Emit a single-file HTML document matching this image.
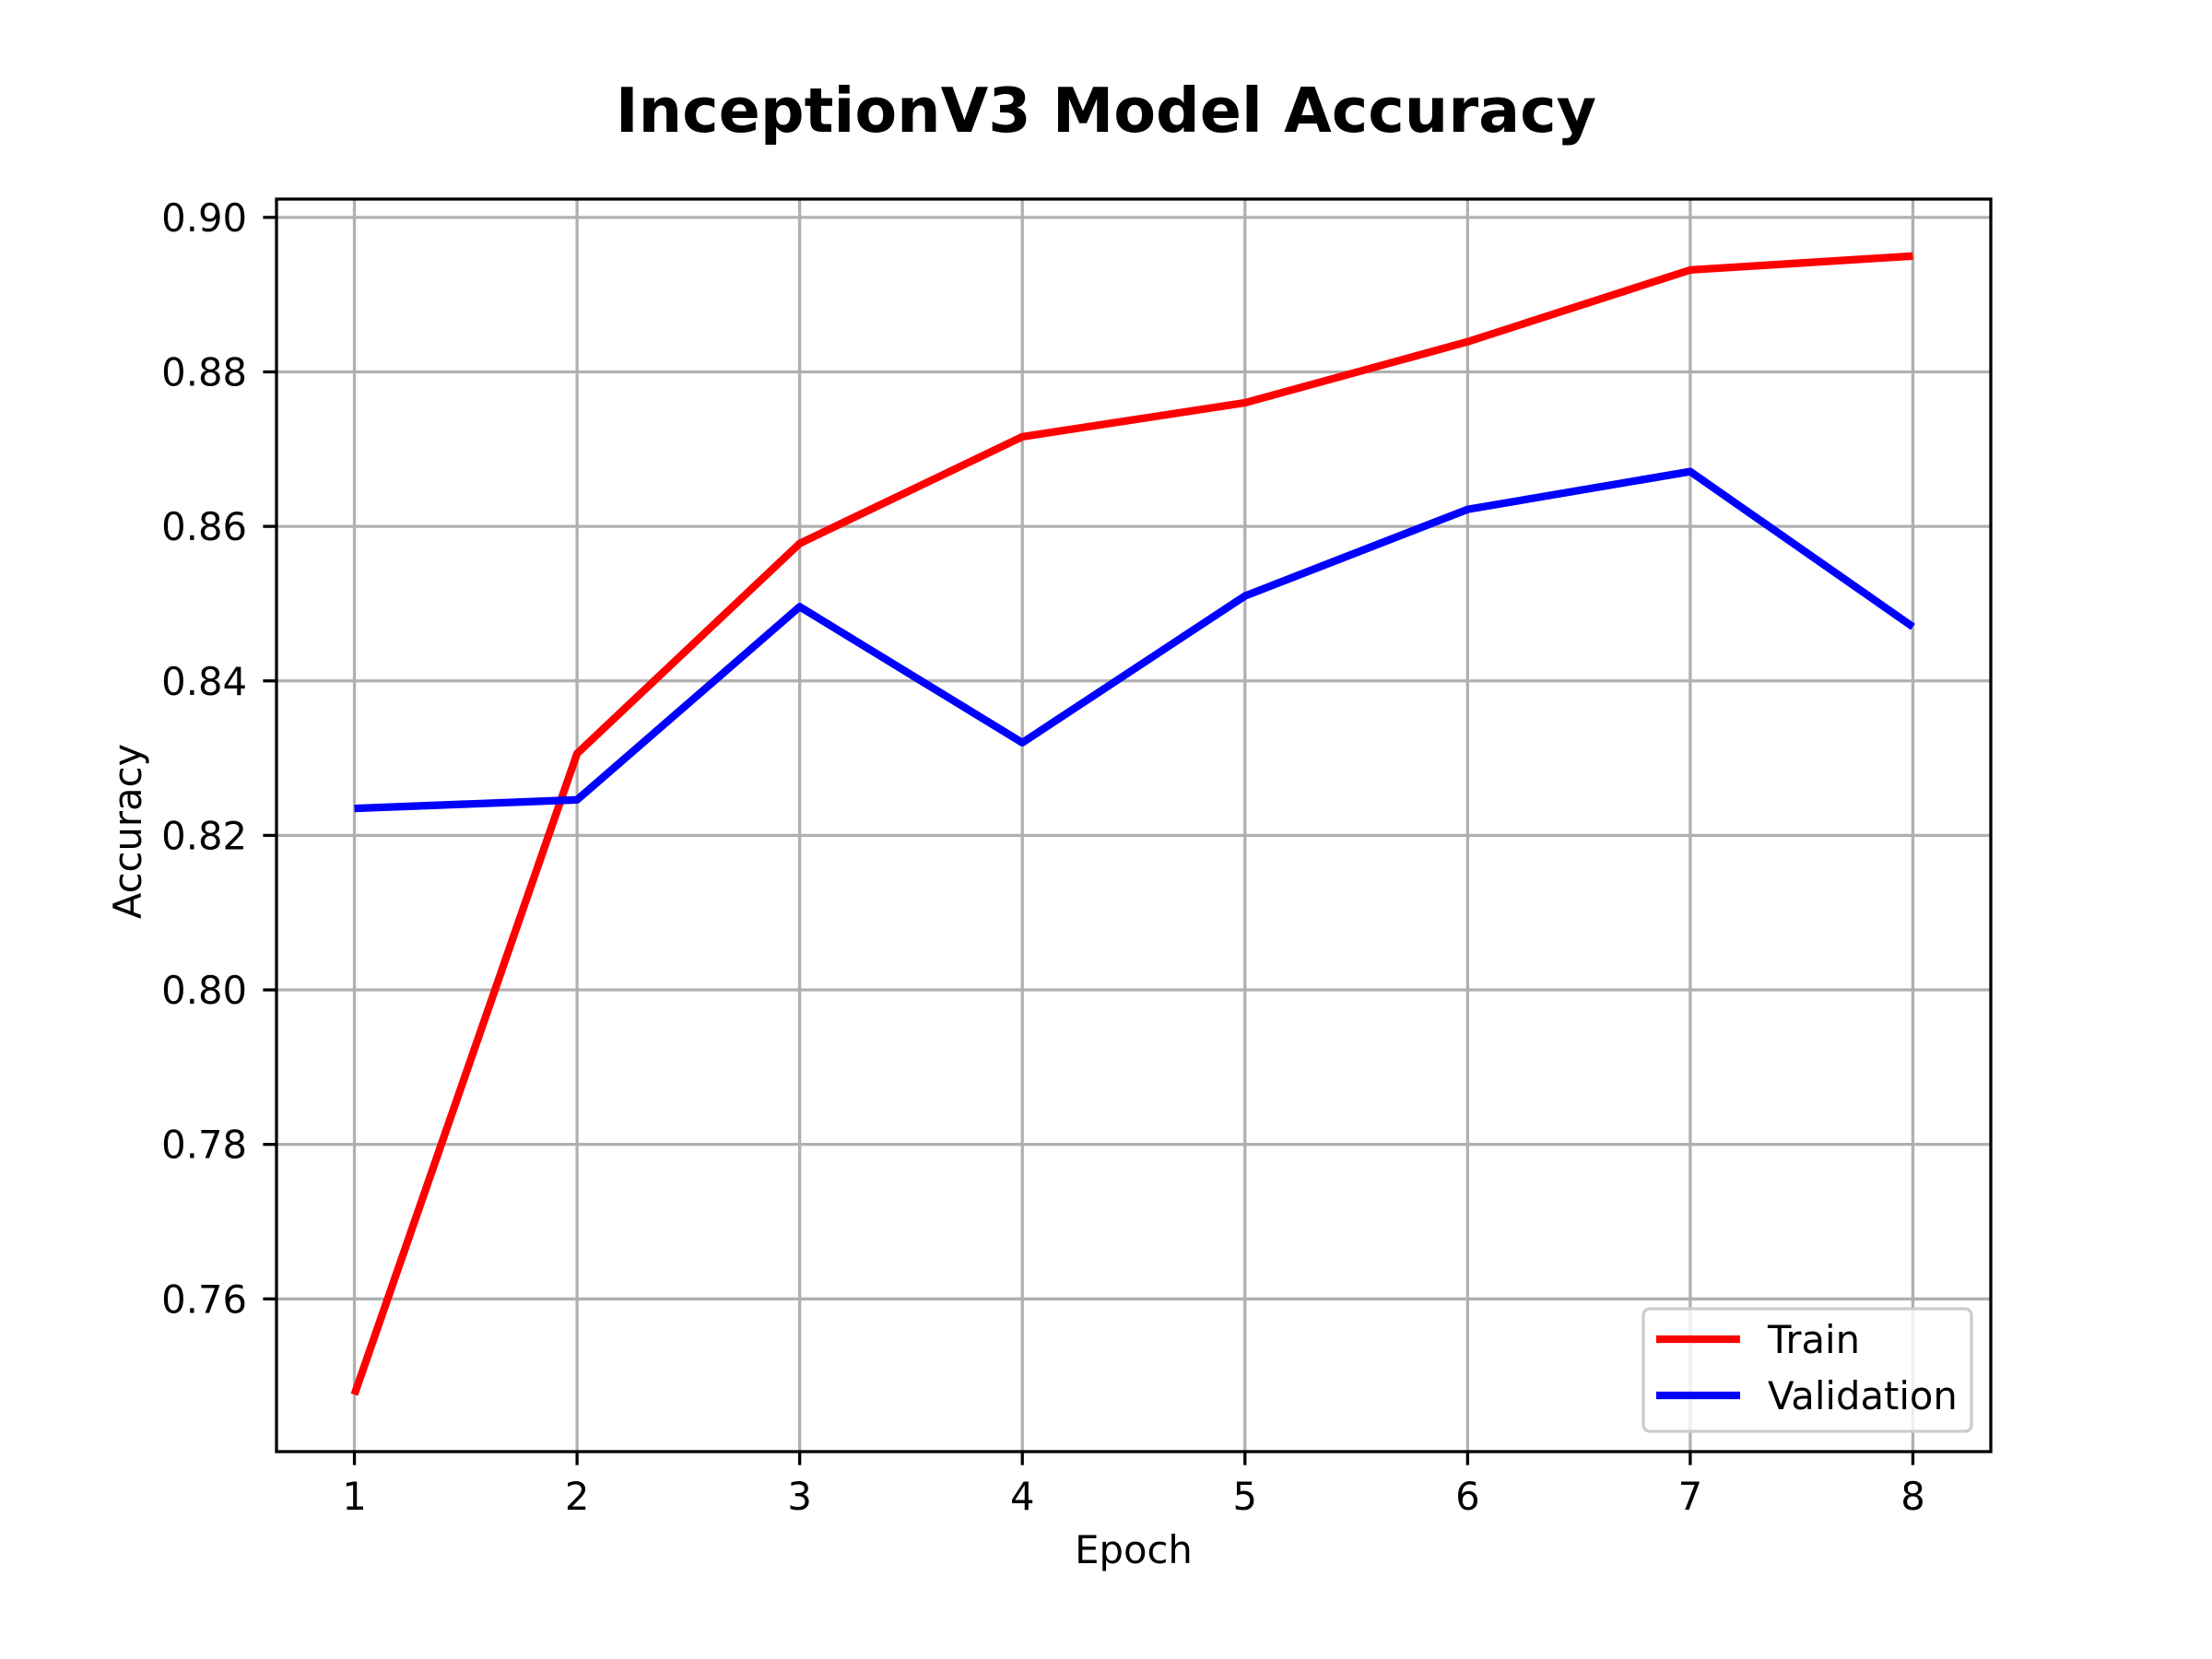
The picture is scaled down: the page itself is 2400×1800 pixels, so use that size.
<!DOCTYPE html>
<html><head><meta charset="utf-8"><style>
html,body{margin:0;padding:0;background:#fff;}
svg{display:block;font-family:"DejaVu Sans","Liberation Sans",sans-serif;}
</style></head><body>
<svg id="chart" width="2400" height="1800" viewBox="0 0 2400 1800" xmlns="http://www.w3.org/2000/svg">
<rect x="0" y="0" width="2400" height="1800" fill="#fff"/>
<text x="1200" y="143" text-anchor="middle" font-size="66.7" font-weight="bold">InceptionV3 Model Accuracy</text>
<g id="grid"></g>
<g id="series"></g>
<rect x="300" y="216" width="1860" height="1359" fill="none" stroke="#000" stroke-width="3.3"/>
<g id="ticks"></g>
<text x="1230" y="1696" text-anchor="middle" font-size="41.7">Epoch</text>
<text x="0" y="0" transform="translate(153,902) rotate(-90)" text-anchor="middle" font-size="41.7">Accuracy</text>
<g>
<rect x="1783" y="1420" width="356" height="133" rx="7" fill="#fff" fill-opacity="0.8" stroke="#cccccc" stroke-width="3.3"/>
<line x1="1797" y1="1453" x2="1888" y2="1453" stroke="#ff0000" stroke-width="8.3"/>
<text x="1918" y="1468" font-size="41.7">Train</text>
<line x1="1797" y1="1514" x2="1888" y2="1514" stroke="#0000ff" stroke-width="8.3"/>
<text x="1918" y="1529" font-size="41.7">Validation</text>
</g>
</svg>
<script>
const epochs = [1, 2, 3, 4, 5, 6, 7, 8];
const trainAcc = [0.7476, 0.8306, 0.8578, 0.8716, 0.8760, 0.8839, 0.8932, 0.8950];
const valAcc = [0.8235, 0.8246, 0.8496, 0.8320, 0.8510, 0.8622, 0.8671, 0.8470];
const xTicks = [1, 2, 3, 4, 5, 6, 7, 8];
const yTicks = [0.76, 0.78, 0.80, 0.82, 0.84, 0.86, 0.88, 0.90];
const yTickLabels = ["0.76", "0.78", "0.80", "0.82", "0.84", "0.86", "0.88", "0.90"];

const L = 300, R = 2160, T = 216, B = 1575;
const NS = "http://www.w3.org/2000/svg";
const xmin0 = Math.min(...epochs), xmax0 = Math.max(...epochs);
const xm = (xmax0 - xmin0) * 0.05;
const xlo = xmin0 - xm, xhi = xmax0 + xm;
const vals = trainAcc.concat(valAcc);
const ymin0 = Math.min(...vals), ymax0 = Math.max(...vals);
const ym = (ymax0 - ymin0) * 0.05;
const ylo = ymin0 - ym, yhi = ymax0 + ym;
function sx(v){ return L + (v - xlo) / (xhi - xlo) * (R - L); }
function sy(v){ return B - (v - ylo) / (yhi - ylo) * (B - T); }
function mk(tag, attrs, parent){
  const e = document.createElementNS(NS, tag);
  for (const k in attrs) e.setAttribute(k, attrs[k]);
  parent.appendChild(e);
  return e;
}
const grid = document.getElementById('grid');
const ticks = document.getElementById('ticks');
const series = document.getElementById('series');
xTicks.forEach((t) => {
  const x = sx(t);
  const g = mk('line', {x1:x, y1:T, x2:x, y2:B, stroke:'#b0b0b0', 'stroke-width':3.3}, grid);
  
  
  const tk = mk('line', {x1:x, y1:B, x2:x, y2:B+14.6, stroke:'#000', 'stroke-width':3.3}, ticks);
  
  
  const lb = mk('text', {x:x, y:1638, 'text-anchor':'middle', 'font-size':41.7}, ticks);
  lb.textContent = String(t);
  
  
});
yTicks.forEach((t, i) => {
  const y = sy(t);
  const g = mk('line', {x1:L, y1:y, x2:R, y2:y, stroke:'#b0b0b0', 'stroke-width':3.3}, grid);
  
  
  const tk = mk('line', {x1:L-14.6, y1:y, x2:L, y2:y, stroke:'#000', 'stroke-width':3.3}, ticks);
  
  
  const lb = mk('text', {x:268, y:y+15, 'text-anchor':'end', 'font-size':41.7}, ticks);
  lb.textContent = yTickLabels[i];
  
  
});
function drawLine(arr, color, name){
  const pts = epochs.map((e, i) => sx(e).toFixed(1) + ',' + sy(arr[i]).toFixed(1)).join(' ');
  const p = mk('polyline', {points:pts, fill:'none', stroke:color, 'stroke-width':8.3, 'stroke-linejoin':'round'}, series);
  
  
}
drawLine(trainAcc, '#ff0000', 'train-line');
drawLine(valAcc, '#0000ff', 'validation-line');
</script>
</body></html>
